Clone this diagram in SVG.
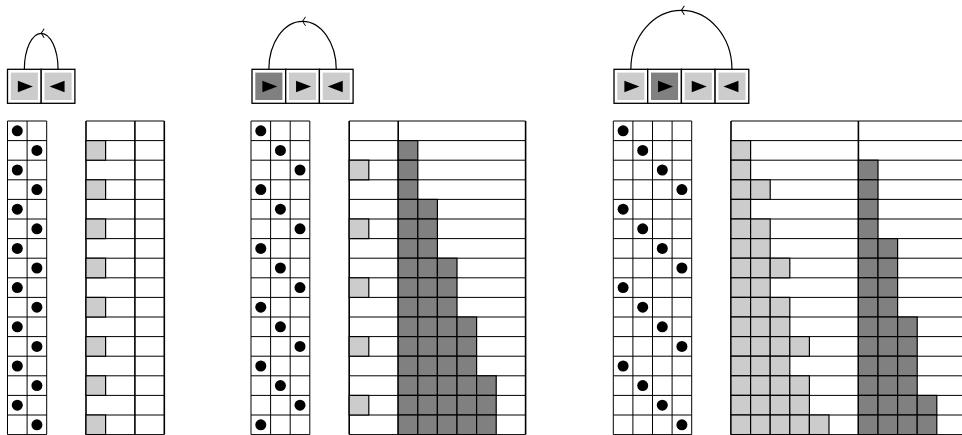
<svg xmlns="http://www.w3.org/2000/svg" xmlns:xlink="http://www.w3.org/1999/xlink" width="962" height="435" viewBox="0 0 962 435">
<style>
.g{fill:none;stroke:#000;stroke-width:1}
.s{fill:none;stroke:#000;stroke-width:1.6}
.lt{fill:#ccc;stroke:#000;stroke-width:1.2}
.dk{fill:#808080;stroke:#000;stroke-width:1.2}
.box{fill:#fff;stroke:#000;stroke-width:1.3}
.il{fill:#ccc}
.id{fill:#808080}
.arc{fill:none;stroke:#000;stroke-width:1.2;marker-mid:url(#ah)}
</style>
<defs>
<marker id="ah" markerUnits="userSpaceOnUse" markerWidth="12" markerHeight="12" viewBox="-6 -6 12 12" refX="0" refY="0" orient="auto" overflow="visible">
<path d="M-3 -4.5L0 0L-3 4.5" fill="none" stroke="#000" stroke-width="1"/>
</marker>
<rect id="lc" class="lt" width="19.6" height="19.6"/>
<rect id="dc" class="dk" width="19.6" height="19.6"/>
<circle id="d" r="5.5" fill="#000"/>
<path id="tr" d="M-6.5 -5.8L8.5 0L-6.5 5.8Z" fill="#000"/>
<path id="tl" d="M6.5 -5.8L-8.5 0L6.5 5.8Z" fill="#000"/>
</defs>
<rect width="962" height="435" fill="#fff"/>

<!-- connectors -->
<g id="connectors">
<path class="arc" d="M58.05 69.3A16.85 36 0 0 0 41.2 33.3A16.85 36 0 0 0 24.35 69.3"/>
<path class="arc" d="M336.25 69.3A33.7 48 0 0 0 302.55 21.3A33.7 48 0 0 0 268.85 69.3"/>
<path class="arc" d="M731.95 69.3A50.55 59 0 0 0 681.4 10.3A50.55 59 0 0 0 630.85 69.3"/>
</g>

<!-- nodes: left -->
<g id="n1a"><rect class="box" x="7.5" y="69.3" width="33.7" height="34"/><rect class="il" x="10.8" y="72.6" width="27.1" height="27.4"/><use href="#tr" x="24.35" y="86.5"/></g>
<g id="n1b"><rect class="box" x="41.2" y="69.3" width="33.7" height="34"/><rect class="il" x="44.5" y="72.6" width="27.1" height="27.4"/><use href="#tl" x="58.05" y="86.5"/></g>
<!-- nodes: middle -->
<g id="n2a"><rect class="box" x="252" y="69.3" width="33.7" height="34"/><rect class="id" x="255.3" y="72.6" width="27.1" height="27.4"/><use href="#tr" x="268.85" y="86.5"/></g>
<g id="n2b"><rect class="box" x="285.7" y="69.3" width="33.7" height="34"/><rect class="il" x="289" y="72.6" width="27.1" height="27.4"/><use href="#tr" x="302.55" y="86.5"/></g>
<g id="n2c"><rect class="box" x="319.4" y="69.3" width="33.7" height="34"/><rect class="il" x="322.7" y="72.6" width="27.1" height="27.4"/><use href="#tl" x="336.25" y="86.5"/></g>
<!-- nodes: right -->
<g id="n3a"><rect class="box" x="614" y="69.3" width="33.7" height="34"/><rect class="il" x="617.3" y="72.6" width="27.1" height="27.4"/><use href="#tr" x="630.85" y="86.5"/></g>
<g id="n3b"><rect class="box" x="647.7" y="69.3" width="33.7" height="34"/><rect class="id" x="651" y="72.6" width="27.1" height="27.4"/><use href="#tr" x="664.55" y="86.5"/></g>
<g id="n3c"><rect class="box" x="681.4" y="69.3" width="33.7" height="34"/><rect class="il" x="684.7" y="72.6" width="27.1" height="27.4"/><use href="#tr" x="698.25" y="86.5"/></g>
<g id="n3d"><rect class="box" x="715.1" y="69.3" width="33.7" height="34"/><rect class="il" x="718.4" y="72.6" width="27.1" height="27.4"/><use href="#tl" x="731.95" y="86.5"/></g>

<!-- grid lines -->
<g id="grids">
<path class="g" d="M7.5 121H46.7M86 121H164.3M7.5 140.6H46.7M86 140.6H164.3M7.5 160.2H46.7M86 160.2H164.3M7.5 179.8H46.7M86 179.8H164.3M7.5 199.4H46.7M86 199.4H164.3M7.5 219H46.7M86 219H164.3M7.5 238.6H46.7M86 238.6H164.3M7.5 258.2H46.7M86 258.2H164.3M7.5 277.8H46.7M86 277.8H164.3M7.5 297.4H46.7M86 297.4H164.3M7.5 317H46.7M86 317H164.3M7.5 336.6H46.7M86 336.6H164.3M7.5 356.2H46.7M86 356.2H164.3M7.5 375.8H46.7M86 375.8H164.3M7.5 395.4H46.7M86 395.4H164.3M7.5 415H46.7M86 415H164.3M7.5 434.6H46.7M86 434.6H164.3M7.5 121V434.6M27.1 121V434.6M46.7 121V434.6"/>
<path class="s" d="M86 121V434.6M134.9 121V434.6M164.3 121V434.6"/>
<path class="g" d="M251 121H309.8M349.2 121H525.6M251 140.6H309.8M349.2 140.6H525.6M251 160.2H309.8M349.2 160.2H525.6M251 179.8H309.8M349.2 179.8H525.6M251 199.4H309.8M349.2 199.4H525.6M251 219H309.8M349.2 219H525.6M251 238.6H309.8M349.2 238.6H525.6M251 258.2H309.8M349.2 258.2H525.6M251 277.8H309.8M349.2 277.8H525.6M251 297.4H309.8M349.2 297.4H525.6M251 317H309.8M349.2 317H525.6M251 336.6H309.8M349.2 336.6H525.6M251 356.2H309.8M349.2 356.2H525.6M251 375.8H309.8M349.2 375.8H525.6M251 395.4H309.8M349.2 395.4H525.6M251 415H309.8M349.2 415H525.6M251 434.6H309.8M349.2 434.6H525.6M251 121V434.6M270.6 121V434.6M290.2 121V434.6M309.8 121V434.6"/>
<path class="s" d="M349.2 121V434.6M398.2 121V434.6M525.6 121V434.6"/>
<path class="g" d="M613.3 121H691.7M731 121H962M613.3 140.6H691.7M731 140.6H962M613.3 160.2H691.7M731 160.2H962M613.3 179.8H691.7M731 179.8H962M613.3 199.4H691.7M731 199.4H962M613.3 219H691.7M731 219H962M613.3 238.6H691.7M731 238.6H962M613.3 258.2H691.7M731 258.2H962M613.3 277.8H691.7M731 277.8H962M613.3 297.4H691.7M731 297.4H962M613.3 317H691.7M731 317H962M613.3 336.6H691.7M731 336.6H962M613.3 356.2H691.7M731 356.2H962M613.3 375.8H691.7M731 375.8H962M613.3 395.4H691.7M731 395.4H962M613.3 415H691.7M731 415H962M613.3 434.6H691.7M731 434.6H962M613.3 121V434.6M632.9 121V434.6M652.5 121V434.6M672.1 121V434.6M691.7 121V434.6"/>
<path class="s" d="M731 121V434.6M858.4 121V434.6"/>
</g>

<!-- left bars -->
<g id="bars1">
<use href="#lc" x="86" y="140.6"/><use href="#lc" x="86" y="179.8"/><use href="#lc" x="86" y="219"/><use href="#lc" x="86" y="258.2"/><use href="#lc" x="86" y="297.4"/><use href="#lc" x="86" y="336.6"/><use href="#lc" x="86" y="375.8"/><use href="#lc" x="86" y="415"/>
</g>
<!-- middle bars -->
<g id="bars2">
<use href="#lc" x="349.2" y="160.2"/><use href="#lc" x="349.2" y="219"/><use href="#lc" x="349.2" y="277.8"/><use href="#lc" x="349.2" y="336.6"/><use href="#lc" x="349.2" y="395.4"/>
<use href="#dc" x="398.2" y="140.6"/>
<use href="#dc" x="398.2" y="160.2"/>
<use href="#dc" x="398.2" y="179.8"/>
<use href="#dc" x="398.2" y="199.4"/><use href="#dc" x="417.8" y="199.4"/>
<use href="#dc" x="398.2" y="219"/><use href="#dc" x="417.8" y="219"/>
<use href="#dc" x="398.2" y="238.6"/><use href="#dc" x="417.8" y="238.6"/>
<use href="#dc" x="398.2" y="258.2"/><use href="#dc" x="417.8" y="258.2"/><use href="#dc" x="437.4" y="258.2"/>
<use href="#dc" x="398.2" y="277.8"/><use href="#dc" x="417.8" y="277.8"/><use href="#dc" x="437.4" y="277.8"/>
<use href="#dc" x="398.2" y="297.4"/><use href="#dc" x="417.8" y="297.4"/><use href="#dc" x="437.4" y="297.4"/>
<use href="#dc" x="398.2" y="317"/><use href="#dc" x="417.8" y="317"/><use href="#dc" x="437.4" y="317"/><use href="#dc" x="457" y="317"/>
<use href="#dc" x="398.2" y="336.6"/><use href="#dc" x="417.8" y="336.6"/><use href="#dc" x="437.4" y="336.6"/><use href="#dc" x="457" y="336.6"/>
<use href="#dc" x="398.2" y="356.2"/><use href="#dc" x="417.8" y="356.2"/><use href="#dc" x="437.4" y="356.2"/><use href="#dc" x="457" y="356.2"/>
<use href="#dc" x="398.2" y="375.8"/><use href="#dc" x="417.8" y="375.8"/><use href="#dc" x="437.4" y="375.8"/><use href="#dc" x="457" y="375.8"/><use href="#dc" x="476.6" y="375.8"/>
<use href="#dc" x="398.2" y="395.4"/><use href="#dc" x="417.8" y="395.4"/><use href="#dc" x="437.4" y="395.4"/><use href="#dc" x="457" y="395.4"/><use href="#dc" x="476.6" y="395.4"/>
<use href="#dc" x="398.2" y="415"/><use href="#dc" x="417.8" y="415"/><use href="#dc" x="437.4" y="415"/><use href="#dc" x="457" y="415"/><use href="#dc" x="476.6" y="415"/>
</g>
<!-- right bars -->
<g id="bars3">
<use href="#lc" x="731" y="140.6"/>
<use href="#lc" x="731" y="160.2"/>
<use href="#lc" x="731" y="179.8"/><use href="#lc" x="750.6" y="179.8"/>
<use href="#lc" x="731" y="199.4"/>
<use href="#lc" x="731" y="219"/><use href="#lc" x="750.6" y="219"/>
<use href="#lc" x="731" y="238.6"/><use href="#lc" x="750.6" y="238.6"/>
<use href="#lc" x="731" y="258.2"/><use href="#lc" x="750.6" y="258.2"/><use href="#lc" x="770.2" y="258.2"/>
<use href="#lc" x="731" y="277.8"/><use href="#lc" x="750.6" y="277.8"/>
<use href="#lc" x="731" y="297.4"/><use href="#lc" x="750.6" y="297.4"/><use href="#lc" x="770.2" y="297.4"/>
<use href="#lc" x="731" y="317"/><use href="#lc" x="750.6" y="317"/><use href="#lc" x="770.2" y="317"/>
<use href="#lc" x="731" y="336.6"/><use href="#lc" x="750.6" y="336.6"/><use href="#lc" x="770.2" y="336.6"/><use href="#lc" x="789.8" y="336.6"/>
<use href="#lc" x="731" y="356.2"/><use href="#lc" x="750.6" y="356.2"/><use href="#lc" x="770.2" y="356.2"/>
<use href="#lc" x="731" y="375.8"/><use href="#lc" x="750.6" y="375.8"/><use href="#lc" x="770.2" y="375.8"/><use href="#lc" x="789.8" y="375.8"/>
<use href="#lc" x="731" y="395.4"/><use href="#lc" x="750.6" y="395.4"/><use href="#lc" x="770.2" y="395.4"/><use href="#lc" x="789.8" y="395.4"/>
<use href="#lc" x="731" y="415"/><use href="#lc" x="750.6" y="415"/><use href="#lc" x="770.2" y="415"/><use href="#lc" x="789.8" y="415"/><use href="#lc" x="809.4" y="415"/>
<use href="#dc" x="858.4" y="160.2"/>
<use href="#dc" x="858.4" y="179.8"/>
<use href="#dc" x="858.4" y="199.4"/>
<use href="#dc" x="858.4" y="219"/>
<use href="#dc" x="858.4" y="238.6"/><use href="#dc" x="878" y="238.6"/>
<use href="#dc" x="858.4" y="258.2"/><use href="#dc" x="878" y="258.2"/>
<use href="#dc" x="858.4" y="277.8"/><use href="#dc" x="878" y="277.8"/>
<use href="#dc" x="858.4" y="297.4"/><use href="#dc" x="878" y="297.4"/>
<use href="#dc" x="858.4" y="317"/><use href="#dc" x="878" y="317"/><use href="#dc" x="897.6" y="317"/>
<use href="#dc" x="858.4" y="336.6"/><use href="#dc" x="878" y="336.6"/><use href="#dc" x="897.6" y="336.6"/>
<use href="#dc" x="858.4" y="356.2"/><use href="#dc" x="878" y="356.2"/><use href="#dc" x="897.6" y="356.2"/>
<use href="#dc" x="858.4" y="375.8"/><use href="#dc" x="878" y="375.8"/><use href="#dc" x="897.6" y="375.8"/>
<use href="#dc" x="858.4" y="395.4"/><use href="#dc" x="878" y="395.4"/><use href="#dc" x="897.6" y="395.4"/><use href="#dc" x="917.2" y="395.4"/>
<use href="#dc" x="858.4" y="415"/><use href="#dc" x="878" y="415"/><use href="#dc" x="897.6" y="415"/><use href="#dc" x="917.2" y="415"/>
</g>

<!-- dots -->
<g id="dots1">
<use href="#d" x="17.3" y="130.8"/><use href="#d" x="36.9" y="150.4"/><use href="#d" x="17.3" y="170"/><use href="#d" x="36.9" y="189.6"/><use href="#d" x="17.3" y="209.2"/><use href="#d" x="36.9" y="228.8"/><use href="#d" x="17.3" y="248.4"/><use href="#d" x="36.9" y="268"/><use href="#d" x="17.3" y="287.6"/><use href="#d" x="36.9" y="307.2"/><use href="#d" x="17.3" y="326.8"/><use href="#d" x="36.9" y="346.4"/><use href="#d" x="17.3" y="366"/><use href="#d" x="36.9" y="385.6"/><use href="#d" x="17.3" y="405.2"/><use href="#d" x="36.9" y="424.8"/>
</g>
<g id="dots2">
<use href="#d" x="260.8" y="130.8"/><use href="#d" x="280.4" y="150.4"/><use href="#d" x="300" y="170"/><use href="#d" x="260.8" y="189.6"/><use href="#d" x="280.4" y="209.2"/><use href="#d" x="300" y="228.8"/><use href="#d" x="260.8" y="248.4"/><use href="#d" x="280.4" y="268"/><use href="#d" x="300" y="287.6"/><use href="#d" x="260.8" y="307.2"/><use href="#d" x="280.4" y="326.8"/><use href="#d" x="300" y="346.4"/><use href="#d" x="260.8" y="366"/><use href="#d" x="280.4" y="385.6"/><use href="#d" x="300" y="405.2"/><use href="#d" x="260.8" y="424.8"/>
</g>
<g id="dots3">
<use href="#d" x="623.1" y="130.8"/><use href="#d" x="642.7" y="150.4"/><use href="#d" x="662.3" y="170"/><use href="#d" x="681.9" y="189.6"/><use href="#d" x="623.1" y="209.2"/><use href="#d" x="642.7" y="228.8"/><use href="#d" x="662.3" y="248.4"/><use href="#d" x="681.9" y="268"/><use href="#d" x="623.1" y="287.6"/><use href="#d" x="642.7" y="307.2"/><use href="#d" x="662.3" y="326.8"/><use href="#d" x="681.9" y="346.4"/><use href="#d" x="623.1" y="366"/><use href="#d" x="642.7" y="385.6"/><use href="#d" x="662.3" y="405.2"/><use href="#d" x="681.9" y="424.8"/>
</g>
</svg>
